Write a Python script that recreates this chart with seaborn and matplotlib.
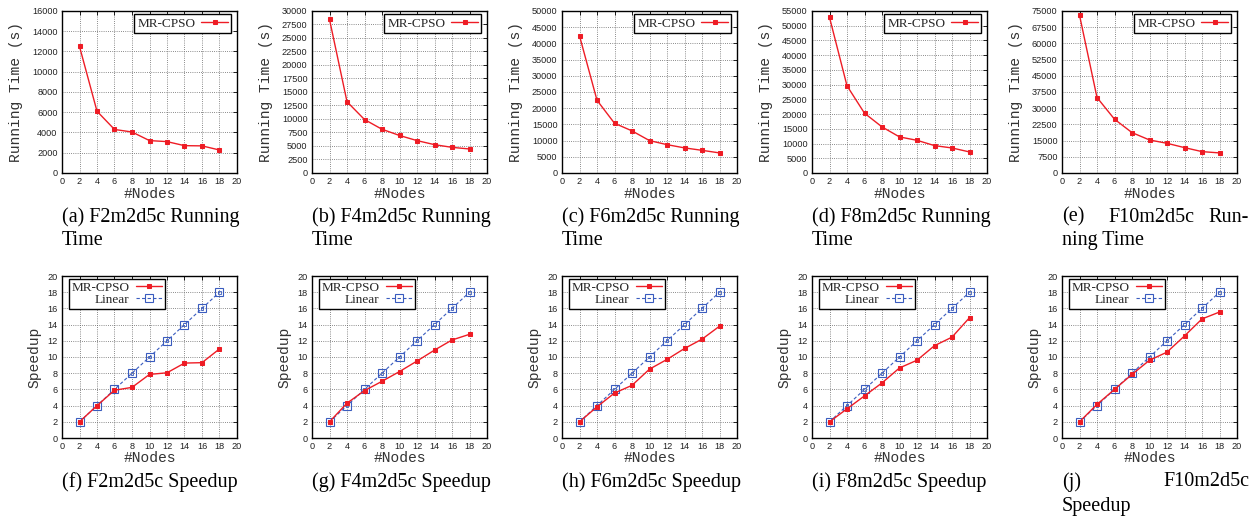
import matplotlib
matplotlib.use("Agg")
import matplotlib.pyplot as plt
import numpy as np
import pandas as pd
import seaborn as sns

# ---------------- data ----------------
nodes = [2, 4, 6, 8, 10, 12, 14, 16, 18]

time_f2 = [12500, 6100, 4300, 4050, 3200, 3100, 2700, 2680, 2270]
time_f4 = [28450, 13200, 9900, 8100, 6950, 6000, 5250, 4750, 4450]
time_f6 = [42350, 22450, 15350, 13000, 10000, 8750, 7750, 7000, 6200]
time_f8 = [52850, 29600, 20300, 15650, 12250, 11100, 9300, 8500, 7150]
time_f10 = [73100, 34950, 24900, 18700, 15300, 13750, 11750, 9900, 9300]

speedup_f2 = [2, 4.0, 5.9, 6.25, 7.85, 8.05, 9.25, 9.3, 11.0]
speedup_f4 = [2, 4.3, 5.85, 7.0, 8.2, 9.5, 10.85, 12.1, 12.8]
speedup_f6 = [2, 3.85, 5.55, 6.5, 8.5, 9.7, 11.05, 12.2, 13.8]
speedup_f8 = [2, 3.6, 5.2, 6.8, 8.65, 9.6, 11.4, 12.45, 14.85]
speedup_f10 = [2, 4.15, 6.0, 7.85, 9.6, 10.6, 12.6, 14.7, 15.55]
linear = [2, 4, 6, 8, 10, 12, 14, 16, 18]

time_series = [time_f2, time_f4, time_f6, time_f8, time_f10]
speed_series = [speedup_f2, speedup_f4, speedup_f6, speedup_f8, speedup_f10]
time_ymax = [16000, 30000, 50000, 55000, 75000]
time_ystep = [2000, 2500, 5000, 5000, 7500]

series_mr = "MR-CPSO"
series_lin = "Linear"
xlabel = "#Nodes"
ylabel_time = "Running Time (s)"
ylabel_speed = "Speedup"

# caption pieces: list of lines, each line a list of (text, x_px, ha)
top_captions = [
    [[("(a) F2m2d5c Running", 62, "left")], [("Time", 62, "left")]],
    [[("(b) F4m2d5c Running", 312, "left")], [("Time", 312, "left")]],
    [[("(c) F6m2d5c Running", 562, "left")], [("Time", 562, "left")]],
    [[("(d) F8m2d5c Running", 812, "left")], [("Time", 812, "left")]],
    [[("(e)", 1062, "left"), ("F10m2d5c", 1108, "left"), ("Run-", 1249, "right")],
     [("ning Time", 1062, "left")]],
]
bottom_captions = [
    [[("(f) F2m2d5c Speedup", 62, "left")]],
    [[("(g) F4m2d5c Speedup", 312, "left")]],
    [[("(h) F6m2d5c Speedup", 562, "left")]],
    [[("(i) F8m2d5c Speedup", 812, "left")]],
    [[("(j)", 1062, "left"), ("F10m2d5c", 1249, "right")],
     [("Speedup", 1062, "left")]],
]

# ---------------- style ----------------
sns.set_theme(style="white")
plt.rcParams["font.family"] = ["Liberation Sans", "DejaVu Sans"]

W, H = 1258, 516
fig = plt.figure(figsize=(W / 100, H / 100), dpi=100)

RED = "#ee1c25"
BLUE = "#3a5cbf"

def make_ax(x0, y0, x1, y1):
    return fig.add_axes([x0 / W, 1 - y1 / H, (x1 - x0) / W, (y1 - y0) / H])

def style_ax(ax, ymax, ystep):
    ax.set_xlim(0, 20)
    ax.set_ylim(0, ymax)
    ax.set_xticks(np.arange(0, 21, 2))
    ax.set_yticks(np.arange(0, ymax + 1, ystep))
    ax.grid(True, color="0.4", linestyle=(0, (1, 1.6)), linewidth=0.6)
    ax.tick_params(direction="in", length=3, width=0.6, top=True, right=True,
                   labelsize=6.6, pad=3.2, colors="black")
    for lab in ax.get_xticklabels() + ax.get_yticklabels():
        lab.set_fontfamily("Liberation Sans")
        lab.set_color("#222222")
    for sp in ax.spines.values():
        sp.set_color("black")
        sp.set_linewidth(1.0)
        sp.set_visible(True)

lefts = [62, 312, 562, 812, 1062]
AXW = 175

mono = {"family": "Liberation Mono", "size": 10.5, "color": "#333333"}
serif = "Liberation Serif"

# ---- top row: running time ----
for i in range(5):
    ax = make_ax(lefts[i], 11, lefts[i] + AXW, 173)
    df = pd.DataFrame({"nodes": nodes, "time": time_series[i]})
    sns.lineplot(data=df, x="nodes", y="time", ax=ax, color=RED, lw=1.0,
                 marker="s", markersize=3.5, markeredgecolor=RED,
                 label=series_mr, zorder=3)
    style_ax(ax, time_ymax[i], time_ystep[i])
    ax.set_xlabel(xlabel, fontdict=mono)
    ax.set_ylabel(ylabel_time, fontdict=mono)
    ax.xaxis.set_label_coords(0.5, -21 / 162)
    ax.xaxis.label.set_verticalalignment("center")
    ax.yaxis.set_label_coords(-46 / AXW, 0.5)
    ax.yaxis.label.set_verticalalignment("center")
    leg = ax.legend(loc="upper right", bbox_to_anchor=(1 - 6 / AXW, 1 - 3 / 162),
                    borderaxespad=0, markerfirst=False, fancybox=False,
                    framealpha=1, edgecolor="black", handlelength=2.0,
                    handletextpad=0.45, borderpad=0.25,
                    prop={"family": serif, "size": 9.5})
    leg.get_frame().set_linewidth(1.0)

# ---- bottom row: speedup ----
for i in range(5):
    ax = make_ax(lefts[i], 276, lefts[i] + AXW, 438)
    df = pd.DataFrame({"nodes": nodes, "mr": speed_series[i], "lin": linear})
    sns.lineplot(data=df, x="nodes", y="mr", ax=ax, color=RED, lw=1.0,
                 marker="s", markersize=3.5, markeredgecolor=RED,
                 label=series_mr, zorder=4)
    sns.lineplot(data=df, x="nodes", y="lin", ax=ax, color=BLUE, lw=0.8,
                 linestyle=(0, (3, 2)), marker="s", markersize=5.5,
                 markerfacecolor="none", markeredgecolor=BLUE,
                 markeredgewidth=0.8, label=series_lin, zorder=3)
    ax.scatter(df["nodes"], df["lin"], marker="s", s=4, facecolors="none",
               edgecolors=BLUE, linewidths=0.6, zorder=3)
    style_ax(ax, 20, 2)
    ax.set_xlabel(xlabel, fontdict=mono)
    ax.set_ylabel(ylabel_speed, fontdict=mono)
    ax.xaxis.set_label_coords(0.5, -20 / 162)
    ax.xaxis.label.set_verticalalignment("center")
    ax.yaxis.set_label_coords(-28 / AXW, 0.5)
    ax.yaxis.label.set_verticalalignment("center")
    leg = ax.legend(loc="upper left", bbox_to_anchor=(7 / AXW, 1 - 3 / 162),
                    borderaxespad=0, markerfirst=False, fancybox=False,
                    framealpha=1, edgecolor="black", handlelength=2.0,
                    handletextpad=0.45, borderpad=0.2, labelspacing=0.0,
                    prop={"family": serif, "size": 9.5})
    leg.get_frame().set_linewidth(1.0)

# ---- captions ----
def draw_caption(lines, y0):
    for j, line in enumerate(lines):
        for text, x, ha in line:
            fig.text(x / W, 1 - (y0 + 24 * j) / H, text, ha=ha, va="center",
                     family=serif, fontsize=14.5, color="black")

for cap in top_captions:
    draw_caption(cap, 217)
for cap in bottom_captions:
    draw_caption(cap, 482)

fig.savefig("out.png", dpi=100, facecolor="white")
